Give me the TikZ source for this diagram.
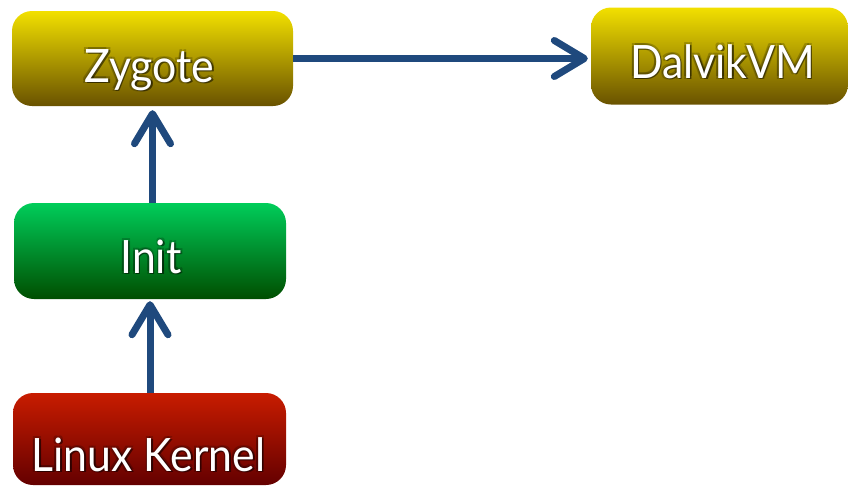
\documentclass[tikz,border=0pt]{standalone}
\usepackage{fontspec}
\setmainfont[FakeStretch=0.93]{Lato}
\usetikzlibrary{arrows.meta}
\definecolor{arrowblue}{RGB}{31,73,125}
\definecolor{yTop}{RGB}{242,224,0}
\definecolor{yMid}{RGB}{200,178,0}
\definecolor{yBot}{RGB}{105,82,0}
\definecolor{gTop}{RGB}{0,205,90}
\definecolor{gMid}{RGB}{0,160,60}
\definecolor{gBot}{RGB}{0,78,0}
\definecolor{rTop}{RGB}{200,28,0}
\definecolor{rMid}{RGB}{160,16,0}
\definecolor{rBot}{RGB}{100,0,0}
\newcommand\glowlabel[3]{%
  \foreach \a in {45,135,225,315}
    \node[lbl, text=black, opacity=0.2] (#1s\a) at ([shift={(\a:2.5pt)}]#2) {#3};
  \node[lbl, text=black, opacity=0.4] (#1sh) at ([shift={(1.5pt,-1.5pt)}]#2) {#3};
  \node[lbl] (#1) at (#2) {#3};
}
\begin{document}
\begin{tikzpicture}[x=1pt,y=-1pt,
  box/.style={rounded corners=20pt, inner sep=0pt, draw=none},
  ybox/.style={box, top color=yTop, middle color=yMid, bottom color=yBot},
  gbox/.style={box, top color=gTop, middle color=gMid, bottom color=gBot},
  rbox/.style={box, top color=rTop, middle color=rMid, bottom color=rBot},
  lbl/.style={text=white, font=\fontsize{46}{50}\selectfont, inner sep=0pt, anchor=base},
  conn/.style={draw=arrowblue, line width=7pt,
    -{Straight Barb[length=30pt, width=36pt, line cap=round, line join=round]}},
]
\useasboundingbox (0,0) rectangle (848,485);
\node[ybox, minimum width=281pt, minimum height=95pt] (zyg) at (152.5,58.5) {};
\node[ybox, minimum width=257pt, minimum height=97pt] (dvm) at (719.5,56) {};
\node[gbox, minimum width=272pt, minimum height=96pt] (init) at (150,251) {};
\node[rbox, minimum width=273pt, minimum height=92pt] (kern) at (149.5,439) {};
\glowlabel{zt}{149.5,82}{Zygote}
\glowlabel{dt}{722.5,78}{DalvikVM}
\glowlabel{it}{151,273}{Init}
\glowlabel{kt}{148.5,471}{Linux Kernel}
\draw[conn, shorten >=3pt] (zyg.east) -- (zyg.east -| dvm.west);
\draw[conn, shorten >=4pt] (zyg.south |- init.north) -- (zyg.south);
\draw[conn, shorten >=2pt] (init.south |- kern.north) -- (init.south);
\end{tikzpicture}
\end{document}
